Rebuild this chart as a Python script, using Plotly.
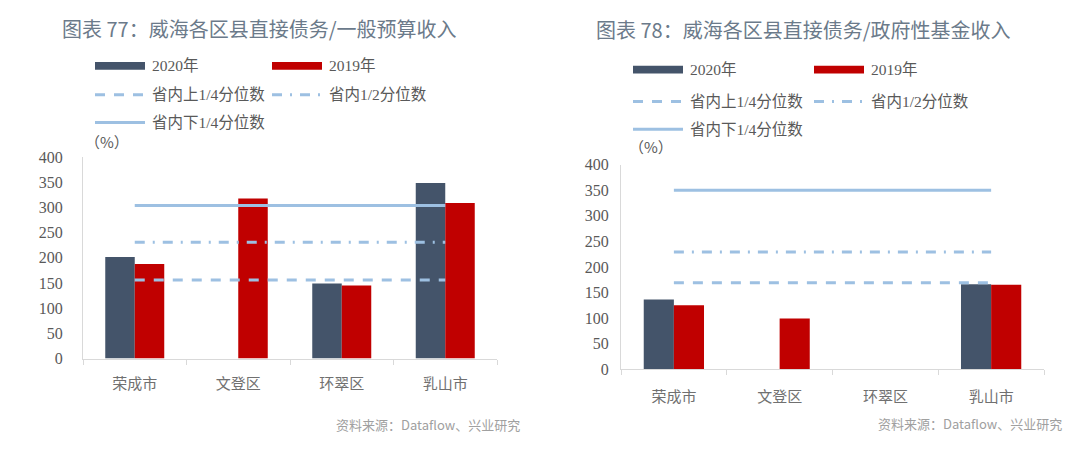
import plotly.graph_objects as go

# ---------------- data ----------------
categories = ["荣成市", "文登区", "环翠区", "乳山市"]

# Chart 77: direct debt / general budget revenue (%)
c77_2020 = [202, None, 149, 349]
c77_2019 = [188, 318, 145, 309]
c77_upper_q = 156   # 省内上1/4分位数
c77_median = 231    # 省内1/2分位数
c77_lower_q = 304   # 省内下1/4分位数

# Chart 78: direct debt / government fund revenue (%)
c78_2020 = [136, None, None, 166]
c78_2019 = [125, 99, None, 165]
c78_upper_q = 169
c78_median = 229
c78_lower_q = 350

y_ticks = [0, 50, 100, 150, 200, 250, 300, 350, 400]

titles = ["图表 77：威海各区县直接债务/一般预算收入", "图表 78：威海各区县直接债务/政府性基金收入"]
series_names = ["2020年", "2019年", "省内上1/4分位数", "省内1/2分位数", "省内下1/4分位数"]
source_text = "资料来源：Dataflow、兴业研究"

# ---------------- style ----------------
W, H = 1080, 459
DARK = "#44546A"
RED = "#C00000"
LINE_BLUE = "#9DC0E2"
TXT = "#595959"
AXIS = "#D9D9D9"
SERIF = "Liberation Serif, Noto Sans CJK SC"
CJK = "Noto Sans CJK SC"


def px(x):
    return x / W


def py(y):
    return 1 - y / H


fig = go.Figure()

charts = [
    dict(v20=c77_2020, v19=c77_2019, uq=c77_upper_q, md=c77_median, lq=c77_lower_q,
         xa="x", ya="y"),
    dict(v20=c78_2020, v19=c78_2019, uq=c78_upper_q, md=c78_median, lq=c78_lower_q,
         xa="x2", ya="y2"),
]

dash_q = "10px,9px"
dash_md = "10px,8px,2px,8px"

for c in charts:
    fig.add_trace(go.Bar(x=categories, y=c["v20"], name=series_names[0], marker_color=DARK,
                         marker_line_width=0, xaxis=c["xa"], yaxis=c["ya"], offsetgroup="a",
                         showlegend=False))
    fig.add_trace(go.Bar(x=categories, y=c["v19"], name=series_names[1], marker_color=RED,
                         marker_line_width=0, xaxis=c["xa"], yaxis=c["ya"], offsetgroup="b",
                         showlegend=False))
    ends = [categories[0], categories[-1]]
    for val, dash, nm in [(c["uq"], dash_q, series_names[2]),
                          (c["md"], dash_md, series_names[3]),
                          (c["lq"], "solid", series_names[4])]:
        fig.add_trace(go.Scatter(x=ends, y=[val, val], mode="lines", name=nm,
                                 line=dict(color=LINE_BLUE, width=3, dash=dash),
                                 xaxis=c["xa"], yaxis=c["ya"], showlegend=False))

common_x = dict(showline=True, linecolor=AXIS, linewidth=1, ticks="outside", tickson="boundaries",
                ticklen=5, tickcolor=AXIS, showgrid=False, zeroline=False,
                tickfont=dict(family=CJK, size=15, color="#707070"), fixedrange=True)
common_y = dict(range=[0, 400], tickvals=y_ticks, showline=True, linecolor=AXIS, linewidth=1,
                showgrid=False, zeroline=False, ticks="",
                tickfont=dict(family="Liberation Serif", size=16, color=TXT), fixedrange=True)

fig.update_layout(
    width=W, height=H,
    margin=dict(l=0, r=0, t=0, b=0),
    paper_bgcolor="white", plot_bgcolor="white",
    barmode="group", bargap=0.43, bargroupgap=0,
    showlegend=False,
    xaxis=dict(domain=[px(83), px(497)], anchor="y", ticklabelstandoff=11, **common_x),
    yaxis=dict(domain=[py(364), py(155)], anchor="x", ticklabelstandoff=16, **common_y),
    xaxis2=dict(domain=[px(621), px(1044)], anchor="y2", ticklabelstandoff=14, **common_x),
    yaxis2=dict(domain=[py(375), py(162.7)], anchor="x2", ticklabelstandoff=8, **common_y),
)

shapes = []
annotations = []

# titles
annotations.append(dict(x=px(259), y=py(21), text=titles[0], showarrow=False, xref="paper", yref="paper",
                        font=dict(family=CJK, size=20, color="#6B7A8A"), xanchor="center", yanchor="middle"))
annotations.append(dict(x=px(803), y=py(22), text=titles[1], showarrow=False, xref="paper", yref="paper",
                        font=dict(family=CJK, size=20, color="#6B7A8A"), xanchor="center", yanchor="middle"))

# legends (drawn)
legend_layouts = [
    dict(c1=95, c2=272, r=[60, 90, 119]),
    dict(c1=633, c2=814, r=[64, 97, 126]),
]
for lg in legend_layouts:
    c1, c2 = lg["c1"], lg["c2"]
    r1, r2, r3 = lg["r"]
    # bars
    shapes.append(dict(type="rect", xref="paper", yref="paper", x0=px(c1), x1=px(c1 + 50),
                       y0=py(r1 + 4), y1=py(r1 - 4), fillcolor=DARK, line_width=0))
    shapes.append(dict(type="rect", xref="paper", yref="paper", x0=px(c2), x1=px(c2 + 50),
                       y0=py(r1 + 4), y1=py(r1 - 4), fillcolor=RED, line_width=0))
    # lines
    shapes.append(dict(type="line", xref="paper", yref="paper", x0=px(c1), x1=px(c1 + 50),
                       y0=py(r2), y1=py(r2), line=dict(color=LINE_BLUE, width=3, dash=dash_q)))
    shapes.append(dict(type="line", xref="paper", yref="paper", x0=px(c2), x1=px(c2 + 50),
                       y0=py(r2), y1=py(r2), line=dict(color=LINE_BLUE, width=3, dash=dash_md)))
    shapes.append(dict(type="line", xref="paper", yref="paper", x0=px(c1), x1=px(c1 + 50),
                       y0=py(r3), y1=py(r3), line=dict(color=LINE_BLUE, width=3)))
    for (xx, yy, t) in [(c1 + 55, r1, series_names[0]), (c2 + 55, r1, series_names[1]),
                        (c1 + 55, r2, series_names[2]), (c2 + 55, r2, series_names[3]),
                        (c1 + 55, r3, series_names[4])]:
        annotations.append(dict(x=px(xx), y=py(yy), text=t, showarrow=False, xref="paper", yref="paper",
                                font=dict(family=SERIF, size=15.5, color=TXT), xanchor="left",
                                yanchor="middle"))

# unit labels
annotations.append(dict(x=px(107), y=py(139), text="（%）", showarrow=False, xref="paper", yref="paper",
                        font=dict(family=CJK, size=15, color=TXT), xanchor="center", yanchor="middle"))
annotations.append(dict(x=px(651), y=py(144), text="（%）", showarrow=False, xref="paper", yref="paper",
                        font=dict(family=CJK, size=15, color=TXT), xanchor="center", yanchor="middle"))

# source
annotations.append(dict(x=px(428), y=py(432), text=source_text, showarrow=False, xref="paper", yref="paper",
                        font=dict(family=CJK, size=13, color="#A0A0A0"), xanchor="center", yanchor="middle"))
annotations.append(dict(x=px(970), y=py(431), text=source_text, showarrow=False, xref="paper", yref="paper",
                        font=dict(family=CJK, size=13, color="#A0A0A0"), xanchor="center", yanchor="middle"))

fig.update_layout(shapes=shapes, annotations=annotations)

fig.write_html("out.html")
